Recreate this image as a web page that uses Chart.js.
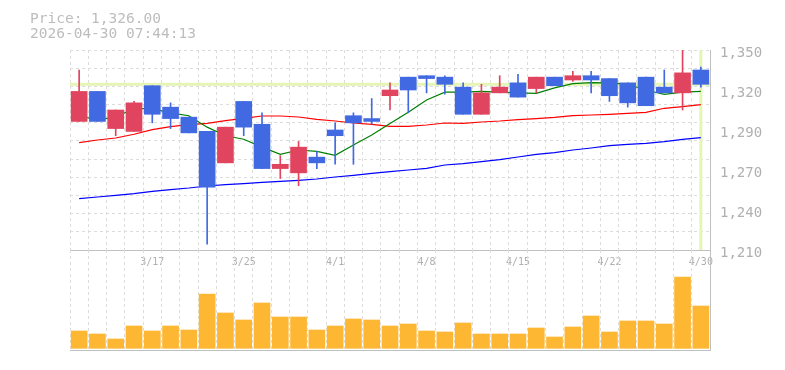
<!DOCTYPE html>
<html>
<head>
<meta charset="utf-8">
<script src="https://cdn.jsdelivr.net/npm/chart.js@4/dist/chart.umd.min.js"></script>
<style>
    html, body { margin: 0; padding: 0; background: #fff; }
    #wrap { position: relative; width: 785px; height: 370px; }
    #wrap canvas { position: absolute; left: 0; top: 0; }
    .head { position: absolute; left: 30px; top: 11px; font: 14.5px/15px "DejaVu Sans Mono", monospace; color: #bdbdbd; white-space: pre; }
</style>
</head>
<body>
<div id="wrap">
    <canvas id="priceChart" width="785" height="370"></canvas>
    <canvas id="volumeChart" width="785" height="370"></canvas>
    <div class="head" id="head"></div>
</div>
<script>
var headLines = ['Price: 1,326.00', '2026-04-30 07:44:13'];

var dates = ['3/11','3/12','3/13','3/16','3/17','3/18','3/19','3/23','3/24','3/25','3/26','3/27','3/30','3/31',
    '4/1','4/2','4/3','4/6','4/7','4/8','4/9','4/10','4/13','4/14','4/15','4/16','4/17','4/20','4/21','4/22',
    '4/23','4/24','4/27','4/28','4/30'];
var xTickLabels = ['3/17','3/25','4/1','4/8','4/15','4/22','4/30'];

var opens  = [1300,1321,1295,1293,1325,1310,1303,1293,1271,1314,1298,1267,1264,1275,1294,1304,1302,1318,1331,1332,1331,1324,1305,1320,1327,1323,1331,1329,1332,1330,1327,1331,1324,1320,1336];
var highs  = [1336,1321,1308,1314,1325,1313,1303,1293,1296,1314,1306,1276,1286,1279,1299,1306,1316,1327,1331,1332,1332,1327,1326,1332,1333,1331,1331,1335,1335,1330,1327,1331,1336,1351,1338];
var lows   = [1300,1300,1290,1293,1299,1295,1292,1214,1271,1290,1267,1260,1255,1267,1270,1270,1298,1308,1306,1320,1319,1305,1305,1320,1317,1320,1325,1328,1320,1314,1310,1311,1320,1308,1324];
var closes = [1321,1300,1308,1313,1305,1302,1292,1254,1296,1296,1267,1270,1282,1271,1290,1299,1300,1322,1322,1330,1326,1305,1320,1324,1317,1331,1325,1332,1329,1318,1313,1311,1320,1334,1326];

var ma5  = [1304,1301,1303,1309,1309,1306,1304,1296,1290,1287.5,1282,1277,1280,1279,1276.3,1283.5,1290.5,1298.5,1306.5,1315,1320.5,1320.5,1321,1320.5,1320,1319.7,1323.5,1326.5,1327.2,1327,1326,1322,1319,1320.5,1321];
var ma25 = [1285.2,1287,1288.4,1291,1294.3,1296.4,1297.8,1298.7,1300.6,1302.2,1303.8,1303.8,1303.1,1301.5,1300.3,1298.9,1298,1296.6,1296.6,1297.5,1298.9,1298.7,1299.6,1300.3,1301.3,1302,1302.9,1304.1,1304.5,1305,1305.7,1306.4,1309.2,1310.4,1311.8];
var ma75 = [1246,1247.1,1248.3,1249.5,1251.1,1252.3,1253.4,1254.8,1255.8,1256.5,1257.4,1258.1,1258.8,1259.7,1261.1,1262.3,1263.7,1264.9,1266,1267.2,1269.5,1270.5,1271.9,1273.3,1275.1,1277,1278.2,1280,1281.4,1283,1284,1284.7,1285.9,1287.5,1288.7];

var volumes = [520,430,280,670,520,670,550,1630,1060,850,1360,940,940,550,670,880,850,670,730,520,490,760,430,430,430,610,340,640,970,490,820,820,730,2140,1270];

var yTicks = [1210,1238,1266,1294,1322,1350];
var yTickLabels = ['1,210','1,240','1,270','1,290','1,320','1,350'];

;(function(){
    var UP = '#e1445f', DOWN = '#4169e1', GRID = '#dcdcdc', EDGE = '#c0c0c0', TEXT = '#b0b0b0';

    Chart.defaults.font.family = '"DejaVu Sans Mono", monospace';

    var main = {
        init: function(){
            document.getElementById('head').textContent = headLines.join('\n');
            this.createPriceChart();
            this.createVolumeChart();
        },

        createPriceChart: function(){
            var colors = closes.map(function(c, i){ return c >= opens[i] ? UP : DOWN; });

            // pale marker for the last close, drawn under the candles
            var lastPrice = {
                id: 'lastPrice',
                beforeDatasetsDraw: function(chart){
                    var ctx = chart.ctx, a = chart.chartArea, last = closes.length - 1;
                    var y = chart.scales.y.getPixelForValue(closes[last]);
                    var x = chart.scales.x.getPixelForValue(last);
                    ctx.save();
                    ctx.fillStyle = '#e5f5b5';
                    ctx.fillRect(a.left, y - 1.5, a.right - a.left, 3);
                    ctx.fillRect(x - 1.5, a.top, 3, a.bottom - a.top);
                    ctx.restore();
                }
            };

            new Chart(document.getElementById('priceChart'), {
                type: 'bar',
                data: {
                    labels: dates,
                    datasets: [
                        {
                            data: opens.map(function(o, i){ return [o, closes[i]]; }),
                            backgroundColor: colors,
                            barThickness: 16,
                            grouped: false,
                            order: 0
                        },
                        {
                            data: lows.map(function(l, i){ return [l, highs[i]]; }),
                            backgroundColor: colors,
                            barThickness: 1,
                            grouped: false,
                            order: 1
                        },
                        { type: 'line', data: ma5,  borderColor: '#008000', borderWidth: 1.2, pointRadius: 0, tension: 0, order: 2 },
                        { type: 'line', data: ma25, borderColor: '#ff0000', borderWidth: 1.2, pointRadius: 0, tension: 0, order: 3 },
                        { type: 'line', data: ma75, borderColor: '#0000ff', borderWidth: 1.2, pointRadius: 0, tension: 0, order: 4 }
                    ]
                },
                options: {
                    responsive: false,
                    animation: false,
                    layout: { padding: { left: 70, top: 50, right: 0, bottom: 0 } },
                    plugins: { legend: { display: false }, tooltip: { enabled: false } },
                    scales: {
                        x: {
                            offset: true,
                            grid: { color: GRID, offset: true, drawTicks: false },
                            border: { display: true, color: EDGE, dash: [3, 3] },
                            ticks: {
                                autoSkip: false, maxRotation: 0, padding: 6, color: TEXT, font: { size: 10 },
                                callback: function(v, i){ return xTickLabels.indexOf(dates[i]) >= 0 ? dates[i] : ''; }
                            },
                            afterFit: function(s){ s.height = 120; }
                        },
                        yg: {
                            position: 'left', min: 1210, max: 1350,
                            grid: { color: GRID, drawTicks: false },
                            border: { display: false, dash: [3, 3] },
                            ticks: { display: false },
                            afterBuildTicks: function(s){
                                var t = [];
                                for (var k = 1; k <= 11; k++) t.push({ value: 1210 + k * 140 / 11 });
                                s.ticks = t;
                            },
                            afterFit: function(s){ s.width = 0; }
                        },
                        y: {
                            position: 'right', min: 1210, max: 1350,
                            grid: { display: false, drawTicks: false },
                            border: { display: true, color: EDGE },
                            ticks: {
                                padding: 10, labelOffset: 3, color: TEXT, font: { size: 14 },
                                callback: function(v, i){ return yTickLabels[i]; }
                            },
                            afterBuildTicks: function(s){
                                s.ticks = yTicks.map(function(v){ return { value: v }; });
                            },
                            afterFit: function(s){ s.width = 75; }
                        }
                    }
                },
                plugins: [lastPrice]
            });
        },

        createVolumeChart: function(){
            new Chart(document.getElementById('volumeChart'), {
                type: 'bar',
                data: {
                    labels: dates,
                    datasets: [{ data: volumes, backgroundColor: '#fdb733', barThickness: 16 }]
                },
                options: {
                    responsive: false,
                    animation: false,
                    layout: { padding: { left: 70, top: 250, right: 75, bottom: 20 } },
                    plugins: { legend: { display: false }, tooltip: { enabled: false } },
                    scales: {
                        x: {
                            offset: true,
                            grid: { color: GRID, offset: true, drawTicks: false },
                            border: { display: true, color: EDGE, dash: [3, 3] },
                            ticks: { display: false },
                            afterFit: function(s){ s.height = 0; }
                        },
                        y: {
                            position: 'right', min: -50, max: 2950,
                            grid: { display: false, drawTicks: false },
                            border: { display: true, color: EDGE },
                            ticks: { display: false },
                            afterFit: function(s){ s.width = 0; }
                        }
                    }
                }
            });
        }
    };

    main.init();
})();
</script>
</body>
</html>
